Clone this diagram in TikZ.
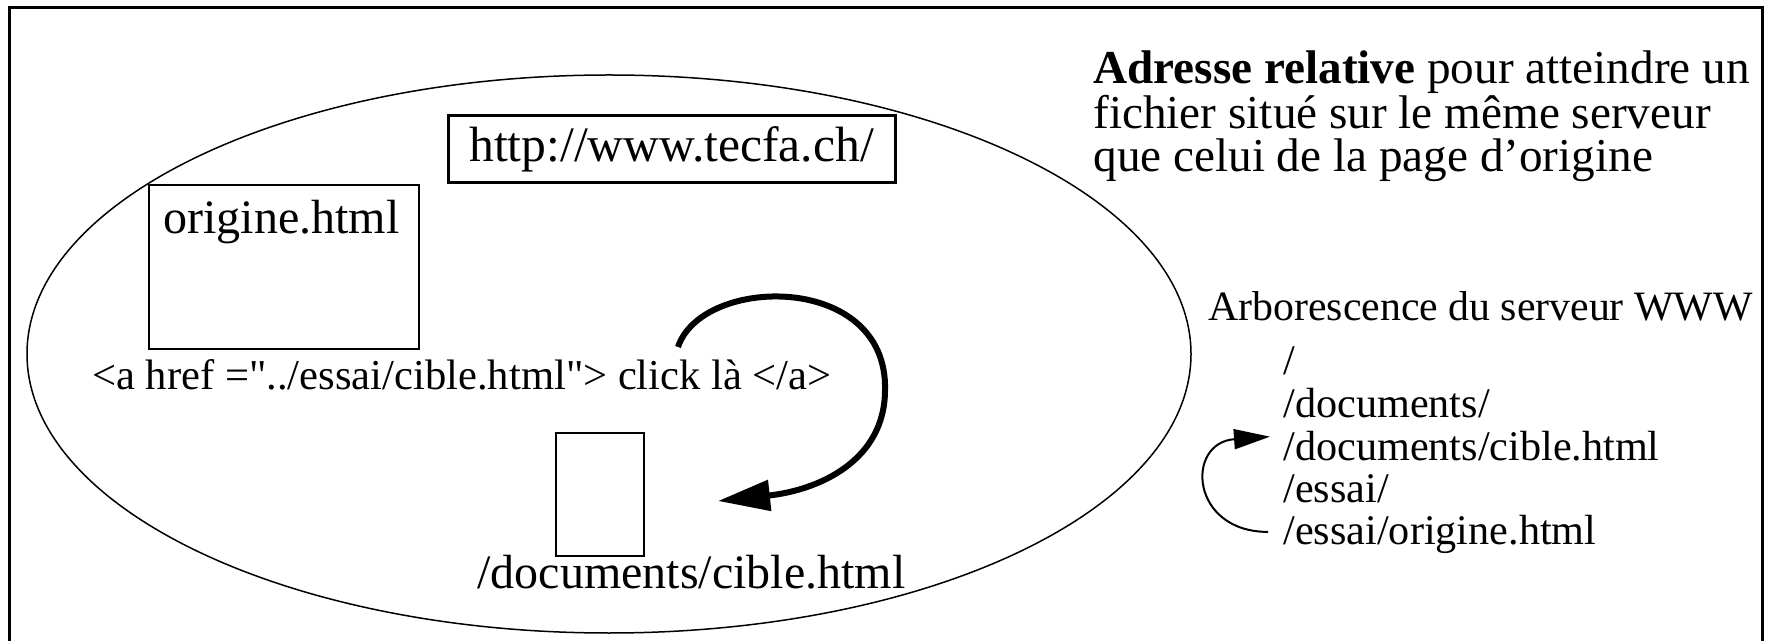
\documentclass[tikz,border=0pt]{standalone}
\usepackage{fontspec}
\setmainfont{Liberation Serif}
\usetikzlibrary{arrows.meta,positioning}

\begin{document}
\begin{tikzpicture}[x=0.5pt,y=-0.5pt,
	grand/.style={font=\fontsize{24}{24}\selectfont,inner sep=0pt,anchor=base west},
	moyen/.style={font=\fontsize{21.1}{21}\selectfont,inner sep=0pt,anchor=base west},
	boite/.style={draw,line width=1pt,inner sep=0pt}]
	\useasboundingbox (0,0) rectangle (1767,641);
	\draw[line width=1.5pt] (9.5,641) -- (9.5,8) -- (1762,8) -- (1762,641);
	\draw[line width=0.75pt] (609,354) ellipse [x radius=582,y radius=279];

	\node[boite,line width=1.5pt,minimum width=223.5pt,minimum height=33.5pt,font=\fontsize{24.8}{24}\selectfont] (url) at (671.5,149.5) {http://www.tecfa.ch/};
	\node[boite,minimum width=135pt,minimum height=82pt] (origine) at (284,267) {};
	\node[grand] (nomorigine) at (163,234) {origine.html};
	\node[moyen,font=\fontsize{21.3}{21}\selectfont] (lien) at (92,390) {<a href =\textquotedbl../essai/cible.html\textquotedbl> click là </a>};
	\node[boite,minimum width=44pt,minimum height=61.5pt] (cible) at (600,494.5) {};
	\node[grand] (nomcible) at (477,588) {/documents/cible.html};

	\node[grand,align=left,font=\fontsize{23.6}{21.6}\selectfont] (titre) at (1093,172) {\textbf{Adresse relative} pour atteindre un\\fichier situé sur le même serveur\\que celui de la page d'origine};

	\node[moyen,font=\fontsize{20.9}{21}\selectfont] (arbo) at (1208,321) {Arborescence du serveur WWW};
	\foreach \i [count=\n] in {/,/documents/,/documents/cible.html,/essai/,/essai/origine.html}
		\node[moyen] (L\n) at (1283,332.5+42.5*\n) {\i};

	\coordinate (depart) at (678,347);
	\coordinate (pointe) at ([xshift=36.5pt,yshift=-3.25pt]cible.east);
	\draw[line width=3pt,-{Triangle[length=26pt,width=15pt]}] (depart) .. controls (702,275) and (888,272) .. (885,390) .. controls (885,460) and (820,490) .. (pointe);

	\coordinate (bas) at ([xshift=-7.5pt,yshift=1.5pt]L5.west);
	\coordinate (haut) at ([xshift=-6.5pt,yshift=4.5pt]L3.west);
	\draw[line width=1pt,-{Triangle[length=18pt,width=10pt]}] (bas) .. controls +(-78,0) and +(-85,6) .. (haut);
\end{tikzpicture}
\end{document}
